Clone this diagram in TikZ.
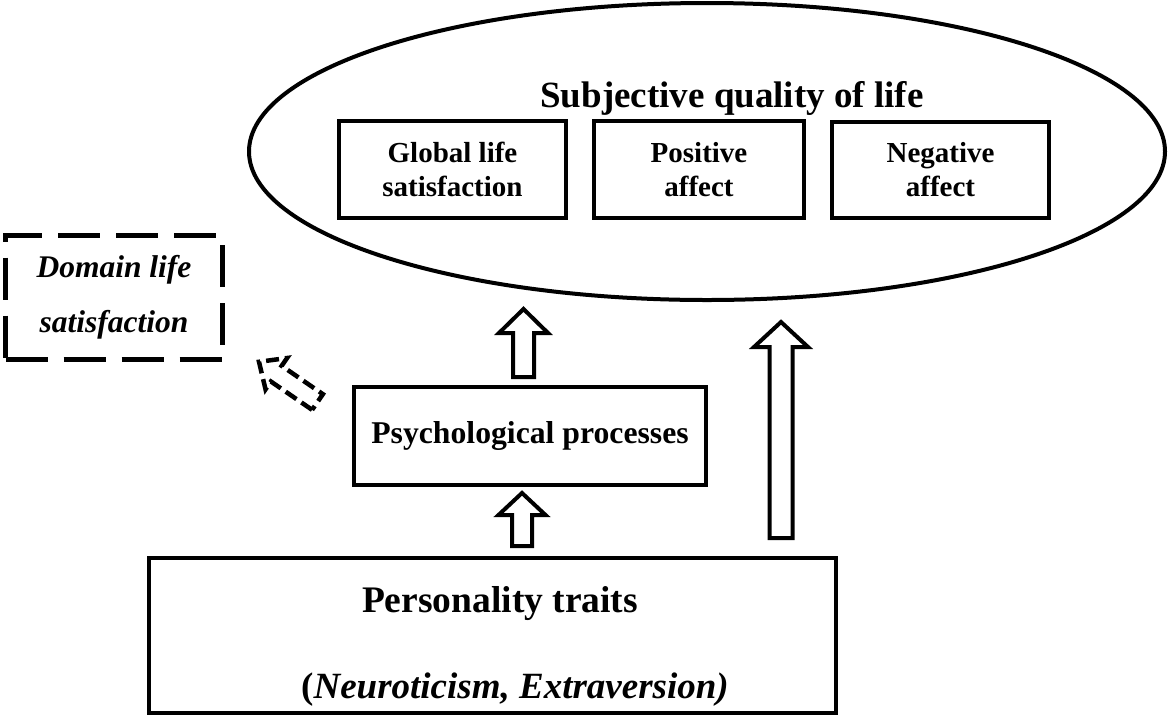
\documentclass[tikz,border=0pt]{standalone}
\usepackage{fontspec}
\setmainfont{Liberation Serif}
\usetikzlibrary{shapes.geometric,calc}

\begin{document}
\begin{tikzpicture}[x=1pt, y=-1pt, line width=4pt,
  box/.style={draw, rectangle, inner sep=0pt, align=center, font=\fontsize{29}{34}\selectfont\bfseries},
  hollow/.style={draw, fill=white, line width=4pt},
  dashedarrow/.style={draw, line width=4.5pt, dash pattern=on 13pt off 6pt}]
\useasboundingbox (0,0) rectangle (1169,716);
\node[draw, ellipse, inner sep=0pt, minimum width=916, minimum height=297] (sqol) at (707,151.5) {};
\node[anchor=base, font=\fontsize{37}{40}\selectfont\bfseries] (title) at (732,107) {Subjective quality of life};
\node[box, minimum width=227, minimum height=97] (glob) at (452.5,169.5) {Global life\\satisfaction};
\node[box, minimum width=210, minimum height=97] (pos) at (699,169.5) {Positive\\affect};
\node[box, minimum width=217, minimum height=96] (neg) at (940.5,170) {Negative\\affect};

\node[draw, line width=5pt, dash pattern=on 42pt off 16pt, inner sep=0pt, minimum width=217, minimum height=124, align=center, font=\fontsize{31.5}{55}\selectfont\bfseries\itshape] (domain) at (114,297.5) {Domain life\\satisfaction};

\node[box, font=\fontsize{31.7}{36}\selectfont\bfseries, minimum width=352, minimum height=98] (psych) at (530,436) {Psychological processes};

\node[draw, inner sep=0pt, minimum width=687, minimum height=155] (traits) at (492.5,635) {};
\node[anchor=base, font=\fontsize{37.5}{40}\selectfont\bfseries] (traitname) at (500,612) {Personality traits};
\node[anchor=base, font=\fontsize{37}{40}\selectfont\bfseries] (traitex) at (515,698) {({\itshape Neuroticism, Extraversion)}};

% hollow arrows
\draw[hollow] ($(psych.north)+(-17,-8)$) -- ++(0,-44) -- ++(-14,0) -- ++(24.5,-24) -- ++(24.5,24) -- ++(-14,0) -- ++(0,44) -- cycle;
\draw[hollow] ($(traits.north)+(19.5,-9.5)$) -- ++(0,-31) -- ++(-13.5,0) -- ++(23.5,-22) -- ++(23.5,22) -- ++(-13.5,0) -- ++(0,31) -- cycle;
\draw[hollow] ($(traits.north)+(277,-17.5)$) -- ++(0,-191) -- ++(-15.5,0) -- ++(27,-25) -- ++(27,25) -- ++(-15.5,0) -- ++(0,191) -- cycle;

% dashed arrow towards domain
\begin{scope}[shift={($(psych.north west)+(-34.5,17)$)}, rotate=145.5]
\draw[dashedarrow] (0,-9.5) -- ++(50,0) -- ++(0,-9.5) -- ++(21,19) -- ++(-21,19) -- ++(0,-9.5) -- ++(-50,0) -- cycle;
\end{scope}
\end{tikzpicture}
\end{document}
